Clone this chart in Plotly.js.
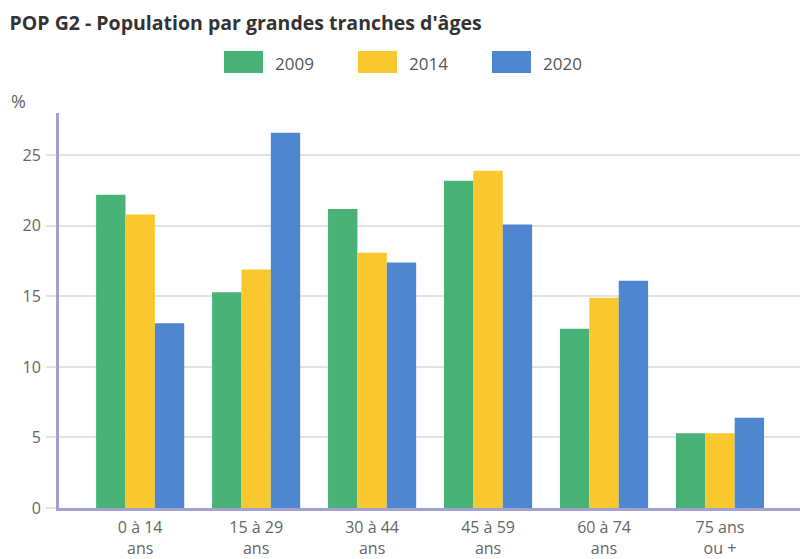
<!DOCTYPE html>
<html>
<head>
<meta charset="utf-8">
<script src="https://cdn.plot.ly/plotly-3.0.1.min.js"></script>
<style>html,body{margin:0;padding:0;background:#fff;}#chart{width:800px;height:559px;}</style>
</head>
<body>
<div id="chart"></div>
<script>
var categories = ["0 à 14<br>ans", "15 à 29<br>ans", "30 à 44<br>ans", "45 à 59<br>ans", "60 à 74<br>ans", "75 ans<br>ou +"];
var years = ["2009", "2014", "2020"];
var values2009 = [22.2, 15.3, 21.2, 23.2, 12.7, 5.3];
var values2014 = [20.8, 16.9, 18.1, 23.9, 14.9, 5.3];
var values2020 = [13.1, 26.6, 17.4, 20.1, 16.1, 6.4];
var yTicks = [0, 5, 10, 15, 20, 25];

var colors = ["#48b277", "#f9c82e", "#4e86d0"];
var series = [values2009, values2014, values2020];

var traces = series.map(function (v, i) {
  return {
    type: "bar",
    name: years[i],
    x: categories,
    y: v,
    marker: { color: colors[i] },
    hoverinfo: "x+y+name"
  };
});

// custom legend (large swatches like the reference)
var shapes = [];
var annotations = [];
var legendX = [224, 358, 492];
var plotL = 59, plotW = 741, plotT = 113, plotH = 395;
function px(x) { return (x - plotL) / plotW; }
function py(y) { return (plotT + plotH - y) / plotH; }
years.forEach(function (yr, i) {
  shapes.push({
    type: "rect", xref: "paper", yref: "paper",
    x0: px(legendX[i]), x1: px(legendX[i] + 39),
    y0: py(73), y1: py(51),
    fillcolor: colors[i], line: { width: 0 }
  });
  annotations.push({
    xref: "paper", yref: "paper", x: px(legendX[i] + 49), y: py(63),
    xanchor: "left", yanchor: "middle", showarrow: false,
    text: yr, font: { family: "Open Sans", size: 17, color: "#555" }
  });
});
annotations.push({
  xref: "paper", yref: "paper", x: px(9), y: py(101),
  xanchor: "left", yanchor: "middle", showarrow: false,
  text: "%", font: { family: "Open Sans", size: 18, color: "#666" }
});

var layout = {
  width: 800, height: 559,
  margin: { l: 59, r: 0, t: 113, b: 51 },
  paper_bgcolor: "#fff", plot_bgcolor: "#fff",
  font: { family: "Open Sans", color: "#666" },
  title: {
    text: "<b>POP G2 - Population par grandes tranches d'âges</b>",
    x: 0.012, xref: "container", xanchor: "left",
    y: 0.958, yref: "container", yanchor: "middle",
    font: { family: "Open Sans", size: 19.5, color: "#333" }
  },
  showlegend: false,
  barmode: "group",
  bargap: 0.24,
  bargroupgap: 0,
  xaxis: {
    type: "category",
    range: [-0.7, 5.69],
    showline: true, linecolor: "#a3a0d2", linewidth: 3,
    showgrid: false, zeroline: false,
    ticks: "",
    tickfont: { family: "Open Sans", size: 16, color: "#666" },
    ticklabelstandoff: 3,
    fixedrange: true
  },
  yaxis: {
    range: [0, 28],
    tickvals: yTicks,
    showline: true, linecolor: "#a3a0d2", linewidth: 3,
    showgrid: true, gridcolor: "#e3e3e3", gridwidth: 2,
    zeroline: false,
    ticks: "outside", ticklen: 10, tickcolor: "#e3e3e3", tickwidth: 2,
    tickfont: { family: "Open Sans", size: 16, color: "#666" },
    ticklabelstandoff: 2,
    fixedrange: true
  },
  shapes: shapes,
  annotations: annotations
};

Plotly.newPlot("chart", traces, layout, { displayModeBar: false, staticPlot: true });
</script>
</body>
</html>
